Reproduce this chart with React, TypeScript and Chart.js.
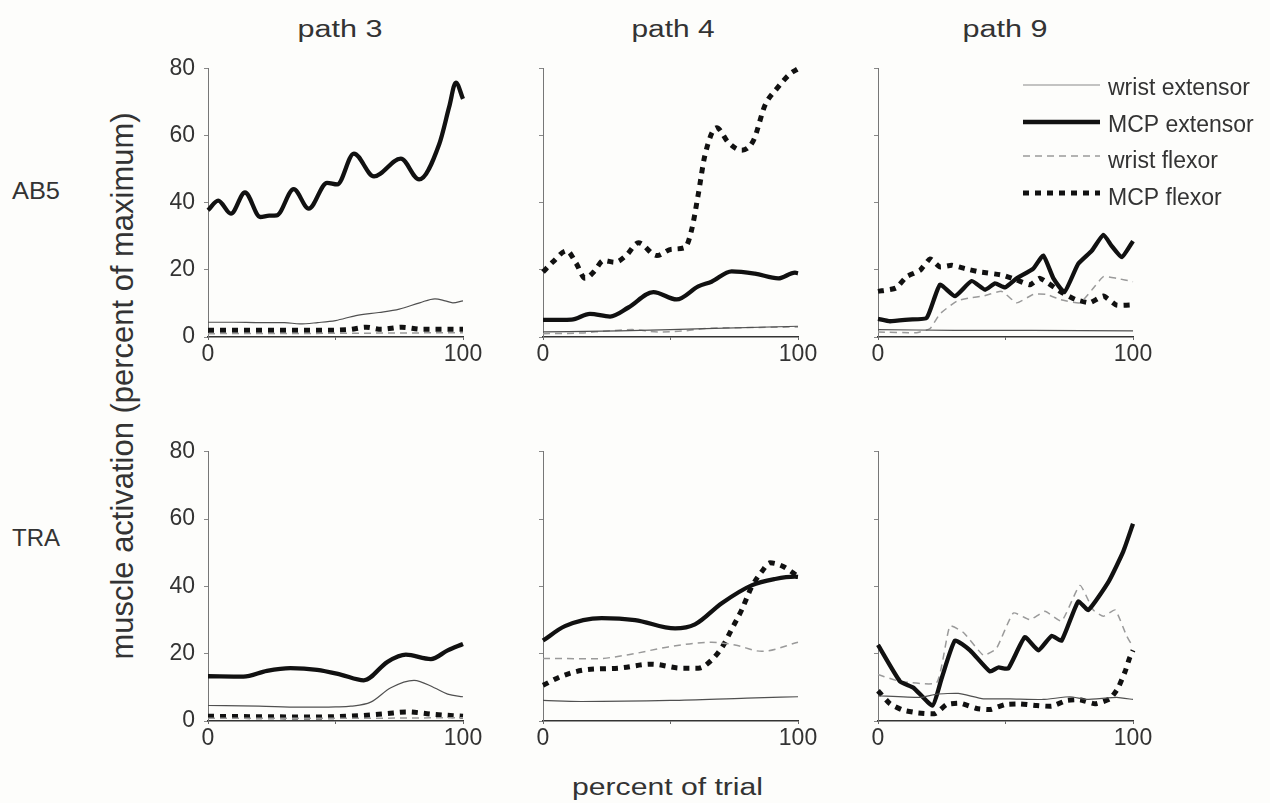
import React, { useEffect, useRef } from 'react';
import { Chart, registerables } from 'chart.js';

Chart.register(...registerables);

type Pt = [number, number];

// ---------- labels ----------
const SERIES_NAMES = ['wrist extensor', 'MCP extensor', 'wrist flexor', 'MCP flexor'];
const PATH_TITLES = ['path 3', 'path 4', 'path 9'];
const SUBJECTS = ['AB5', 'TRA'];
const X_TICKS = [0, 50, 100];
const X_TICK_LABELS = ['0', '', '100'];
const Y_TICKS = [0, 20, 40, 60, 80];
const Y_TITLE = 'muscle activation (percent of maximum)';
const X_TITLE = 'percent of trial';

// ---------- data: AB5 ----------
const AB5_P3_WRIST_EXT: Pt[] = [[0, 4.4], [10, 4.4], [20, 4.3], [30, 4.3], [36, 3.9], [43, 4.3], [50, 4.9], [58, 6.4], [67, 7.3], [75, 8.3], [83, 10.2], [89, 11.4], [93, 10.8], [96, 10.2], [100, 10.8]];
const AB5_P3_MCP_EXT: Pt[] = [[0, 37.8], [4, 40.7], [9, 36.8], [14.5, 43.1], [20.5, 35.8], [24, 36.2], [27, 36.3], [33.6, 44.1], [39.5, 38.3], [46.7, 46], [50.7, 45.5], [57.2, 54.7], [65.1, 47.9], [75.6, 53.2], [82.8, 47], [90.7, 57.6], [94.6, 68.7], [97.2, 75.9], [100, 71]];
const AB5_P3_WRIST_FLEX: Pt[] = [[0, 1], [50, 1.1], [100, 1.3]];
const AB5_P3_MCP_FLEX: Pt[] = [[0, 2], [40, 2], [55, 2.2], [62, 2.9], [68, 2.3], [76, 2.9], [84, 2.3], [100, 2.3]];

const AB5_P4_WRIST_EXT: Pt[] = [[0, 1.5], [30, 1.8], [60, 2.4], [100, 3.2]];
const AB5_P4_MCP_EXT: Pt[] = [[0, 5.1], [11.2, 5.2], [18.4, 6.9], [26.3, 6.1], [33.5, 8.8], [43.3, 13.4], [52.4, 11.2], [60.9, 15.1], [66.1, 16.5], [74, 19.6], [83.1, 18.9], [92.3, 17.5], [98.8, 19.2], [100, 19]];
const AB5_P4_WRIST_FLEX: Pt[] = [[0, 1], [15, 1.2], [25, 1.8], [35, 2.2], [45, 1.5], [55, 1.8], [65, 2.6], [80, 2.8], [100, 3]];
const AB5_P4_MCP_FLEX: Pt[] = [[0, 19.4], [4, 22.5], [9.3, 25.7], [13, 22], [16.5, 17.5], [20, 19.5], [23.7, 22.8], [28.2, 22.3], [32.6, 24.3], [37.4, 28.1], [44.6, 24.3], [50.5, 26.2], [55.7, 26.7], [58.3, 32], [60.9, 42.6], [63.5, 54.2], [68.1, 62.4], [72.7, 58], [77.9, 55.7], [82.5, 58.6], [87.1, 69.2], [91.6, 74], [96.9, 78.5], [100, 80]];

const AB5_P9_WRIST_EXT: Pt[] = [[0, 2.2], [30, 2], [60, 2], [100, 1.8]];
const AB5_P9_MCP_EXT: Pt[] = [[0, 5.4], [4.7, 4.7], [12, 5.2], [19.1, 5.7], [24.3, 15.6], [30.2, 12.2], [36.7, 16.7], [42, 14.1], [45.9, 16], [49.8, 14.8], [54.4, 17.5], [60.9, 20.4], [64.8, 24.3], [68.8, 17.5], [73.1, 13.4], [78.5, 21.8], [83.8, 25.7], [88.4, 30.5], [91.6, 27.2], [95.6, 23.8], [100, 28.6]];
const AB5_P9_WRIST_FLEX: Pt[] = [[0, 1.5], [15, 1.3], [20.4, 2.5], [24.3, 6.9], [30.9, 10.7], [36, 11.7], [41.3, 12.2], [48.5, 13.6], [54.4, 10.2], [60.9, 12.7], [66.1, 12.7], [71.4, 11.2], [79.2, 10.2], [84.5, 14.6], [88.4, 18], [93.6, 17.5], [100, 16.5]];
const AB5_P9_MCP_FLEX: Pt[] = [[0, 13.6], [7, 14.6], [11.2, 18], [16.5, 19.9], [20.4, 23.3], [24.3, 20.9], [28.9, 21.4], [34.1, 20.4], [40, 19.4], [48.5, 18.5], [54.4, 17], [59.6, 15.6], [63.5, 17.5], [71.4, 13.6], [77.3, 11.2], [83.1, 10.2], [88.4, 12.2], [93.6, 9.5], [100, 9.6]];

// ---------- data: TRA ----------
const TRA_P3_WRIST_EXT: Pt[] = [[0, 4.6], [20, 4.4], [36, 4.1], [50, 4.2], [56, 4.4], [63.8, 5.6], [71.7, 9.9], [80.8, 12.1], [88.7, 9.9], [94, 8], [100, 7.2]];
const TRA_P3_MCP_EXT: Pt[] = [[0, 13.3], [13.9, 13.2], [23.1, 14.9], [32.3, 15.7], [42.8, 15.2], [52, 13.8], [61.1, 12.1], [70.4, 17.6], [77.6, 19.7], [87.4, 18.4], [94, 21], [100, 22.9]];
const TRA_P3_WRIST_FLEX: Pt[] = [[0, 0.8], [50, 0.8], [100, 1]];
const TRA_P3_MCP_FLEX: Pt[] = [[0, 1.4], [40, 1.2], [60, 1.6], [70, 2.2], [78, 2.7], [88, 2], [100, 1.4]];

const TRA_P4_WRIST_EXT: Pt[] = [[0, 6.1], [15, 5.8], [50, 6.1], [80, 6.8], [100, 7.2]];
const TRA_P4_MCP_EXT: Pt[] = [[0, 23.9], [8.6, 28.2], [23, 30.6], [36.1, 30], [51.8, 27.5], [59.6, 28.7], [70.1, 35], [81.8, 40.3], [91, 42.2], [98.8, 42.9], [100, 42.8]];
const TRA_P4_WRIST_FLEX: Pt[] = [[0, 18.6], [20.4, 18.5], [33.5, 19.7], [49.1, 22], [66.1, 23.4], [75.3, 22.6], [85.8, 20.7], [100, 23.4]];
const TRA_P4_MCP_FLEX: Pt[] = [[0, 10.6], [7.3, 13.3], [16.5, 15.2], [29.5, 15.7], [42.6, 16.9], [54.4, 15.7], [60.9, 15.7], [66.1, 18.1], [70.7, 22.5], [74, 27.3], [77.9, 33], [81.8, 39.8], [86, 44.6], [89, 47], [94, 46], [100, 43]];

const TRA_P9_WRIST_EXT: Pt[] = [[0, 7.5], [16.5, 7], [23, 8], [31.5, 8.2], [41.3, 6.6], [51.8, 6.6], [64.8, 6.4], [75.3, 7.2], [81.8, 6.4], [93.6, 7], [100, 6.4]];
const TRA_P9_MCP_EXT: Pt[] = [[0, 22.6], [8.6, 11.8], [13.9, 9.9], [21.4, 4.6], [25, 12.8], [30.2, 23.9], [36.1, 21], [43.9, 14.7], [47.2, 15.9], [51.1, 15.6], [57.6, 24.9], [62.9, 21], [68.1, 25.3], [72, 23.9], [78.5, 35.5], [82.5, 33], [90.5, 41.5], [96.2, 50.4], [100, 58.6]];
const TRA_P9_WRIST_FLEX: Pt[] = [[0, 13.8], [8.6, 11.8], [23, 11.4], [28.2, 28.2], [33.5, 26.3], [41.3, 19.6], [46.4, 21.5], [53.1, 32.1], [59.6, 30.1], [65.5, 32.6], [72, 29.7], [79.2, 40.3], [84.4, 33], [88.4, 31.1], [93, 33], [97.5, 25.3], [100, 22]];
const TRA_P9_MCP_FLEX: Pt[] = [[0, 9], [4.7, 5.1], [9.9, 3.2], [15.8, 2.4], [22.4, 2.2], [26.9, 4.9], [32.2, 5.3], [38.7, 3.7], [43.9, 3.4], [49.8, 4.9], [55.7, 5.1], [62.2, 4.6], [68.1, 4.4], [74, 6.1], [79.2, 6.3], [85.1, 5.1], [91, 6.6], [94.2, 9.9], [96.9, 14.7], [98.6, 18.6], [100, 21]];

const PANELS: Pt[][][][] = [
  [
    [AB5_P3_WRIST_EXT, AB5_P3_MCP_EXT, AB5_P3_WRIST_FLEX, AB5_P3_MCP_FLEX],
    [AB5_P4_WRIST_EXT, AB5_P4_MCP_EXT, AB5_P4_WRIST_FLEX, AB5_P4_MCP_FLEX],
    [AB5_P9_WRIST_EXT, AB5_P9_MCP_EXT, AB5_P9_WRIST_FLEX, AB5_P9_MCP_FLEX],
  ],
  [
    [TRA_P3_WRIST_EXT, TRA_P3_MCP_EXT, TRA_P3_WRIST_FLEX, TRA_P3_MCP_FLEX],
    [TRA_P4_WRIST_EXT, TRA_P4_MCP_EXT, TRA_P4_WRIST_FLEX, TRA_P4_MCP_FLEX],
    [TRA_P9_WRIST_EXT, TRA_P9_MCP_EXT, TRA_P9_WRIST_FLEX, TRA_P9_MCP_FLEX],
  ],
];

// ---------- styles / layout ----------
const FONT = "'Liberation Sans', Arial, Helvetica, sans-serif";
const TEXT = '#333333';
const BG = '#fdfdfb';
const STYLES = [
  { color: '#505050', width: 1.2, dash: [] as number[] },
  { color: '#111111', width: 4.3, dash: [] as number[] },
  { color: '#9a9a9a', width: 1.5, dash: [7, 5] },
  { color: '#111111', width: 5, dash: [6, 6] },
];
const COL_LEFT = [208, 543, 878];
const ROW_TOP = [61, 444];
const ROW_H = [276, 277];
const PLOT_W = 255;
const AXIS_W = 70;
const PAD_TOP = 15;
const AXIS_H = 45;
const LEGEND_LINE_Y = [85, 122, 156, 193];
const LEGEND_TEXT_Y = [95, 132, 168, 205];
const LEGEND_X0 = 1023;
const LEGEND_X1 = 1100;
const LEGEND_TX = 1108;

type PanelProps = { row: number; col: number };

function Panel({ row, col }: PanelProps) {
  const ref = useRef<HTMLCanvasElement | null>(null);
  const withLegend = row === 0 && col === 2;
  const left = COL_LEFT[col] - AXIS_W;
  const top = ROW_TOP[row] - PAD_TOP;
  const padRight = withLegend ? 1270 - left - AXIS_W - PLOT_W : 35;
  const width = AXIS_W + PLOT_W + padRight;
  const height = PAD_TOP + ROW_H[row] + AXIS_H;

  useEffect(() => {
    if (!ref.current) return;
    const series = PANELS[row][col];
    const smooth = col !== 2;
    const datasets = series.map((pts, i) => ({
      label: SERIES_NAMES[i],
      data: pts.map(([x, y]) => ({ x, y })),
      borderColor: STYLES[i].color,
      borderWidth: STYLES[i].width,
      borderDash: STYLES[i].dash,
      borderCapStyle: 'butt' as const,
      pointRadius: 0,
      fill: false,
      clip: false as const,
      tension: smooth ? 0.4 : 0.15,
      cubicInterpolationMode: smooth ? ('monotone' as const) : ('default' as const),
    }));

    const legendPlugin = {
      id: 'muscleLegend',
      afterDraw(chart: any) {
        const ctx = chart.ctx as CanvasRenderingContext2D;
        ctx.save();
        SERIES_NAMES.forEach((name, i) => {
          const y = LEGEND_LINE_Y[i] - top;
          ctx.beginPath();
          ctx.setLineDash(STYLES[i].dash);
          ctx.strokeStyle = i === 0 ? '#8a8a8a' : STYLES[i].color;
          ctx.lineWidth = STYLES[i].width;
          ctx.lineCap = 'butt';
          ctx.moveTo(LEGEND_X0 - left, y);
          ctx.lineTo(LEGEND_X1 - left, y);
          ctx.stroke();
          ctx.setLineDash([]);
          ctx.fillStyle = TEXT;
          ctx.font = `23px ${FONT}`;
          ctx.textBaseline = 'alphabetic';
          ctx.textAlign = 'left';
          ctx.fillText(name, LEGEND_TX - left, LEGEND_TEXT_Y[i] - top);
        });
        ctx.restore();
      },
    };

    const chart = new Chart(ref.current, {
      type: 'line',
      data: { datasets },
      plugins: withLegend ? [legendPlugin] : [],
      options: {
        animation: false,
        responsive: false,
        maintainAspectRatio: false,
        layout: { padding: { top: PAD_TOP, right: padRight, left: 0, bottom: 0 } },
        plugins: { legend: { display: false }, tooltip: { enabled: false }, title: { display: false } },
        scales: {
          x: {
            type: 'linear',
            min: 0,
            max: 100,
            afterFit: (s: any) => { s.height = AXIS_H; },
            afterBuildTicks: (s: any) => { s.ticks = X_TICKS.map((v) => ({ value: v })); },
            ticks: {
              autoSkip: false,
              maxRotation: 0,
              padding: 1,
              color: TEXT,
              font: { family: FONT, size: 23 },
              callback: (v: any) => X_TICK_LABELS[X_TICKS.indexOf(Number(v))] ?? '',
            },
            grid: { drawOnChartArea: false, drawTicks: true, tickLength: 3, color: '#666', lineWidth: 1 },
            border: { display: true, color: '#333', width: 1.5 },
          },
          y: {
            type: 'linear',
            min: 0,
            max: 80,
            afterFit: (s: any) => { s.width = AXIS_W; },
            afterBuildTicks: (s: any) => { s.ticks = Y_TICKS.map((v) => ({ value: v })); },
            ticks: {
              padding: 9,
              color: TEXT,
              font: { family: FONT, size: 23 },
              callback: (v: any) => (col === 0 ? String(v) : ''),
            },
            grid: { drawOnChartArea: false, drawTicks: true, tickLength: 4, color: '#888', lineWidth: 1 },
            border: { display: true, color: '#777', width: 1 },
          },
        },
      },
    } as any);
    return () => chart.destroy();
  }, [row, col]);

  return (
    <canvas
      ref={ref}
      width={width}
      height={height}
      style={{ position: 'absolute', left, top, width, height }}
    />
  );
}

export default function App() {
  const cells: React.ReactNode[] = [];
  for (let r = 0; r < 2; r++) for (let c = 0; c < 3; c++) cells.push(<Panel key={`${r}-${c}`} row={r} col={c} />);
  const titleX = [340, 673, 1005];
  const titleW = [85, 83, 85];
  return (
    <div style={{ position: 'absolute', left: 0, top: 0, width: 1270, height: 803, background: BG, overflow: 'hidden' }}>
      <svg width={1270} height={803} style={{ position: 'absolute', left: 0, top: 0 }} fontFamily={FONT} fill={TEXT}>
        {PATH_TITLES.map((t, i) => (
          <text key={t} x={titleX[i]} y={37} fontSize={23} textAnchor="middle" textLength={titleW[i]} lengthAdjust="spacingAndGlyphs">{t}</text>
        ))}
        <text x={12} y={199} fontSize={24} textLength={48} lengthAdjust="spacingAndGlyphs">{SUBJECTS[0]}</text>
        <text x={12} y={546} fontSize={24} textLength={48} lengthAdjust="spacingAndGlyphs">{SUBJECTS[1]}</text>
        <text transform="translate(133,386) rotate(-90)" fontSize={31} textAnchor="middle" textLength={547} lengthAdjust="spacingAndGlyphs">{Y_TITLE}</text>
        <text x={667.5} y={795} fontSize={23.5} textAnchor="middle" textLength={191} lengthAdjust="spacingAndGlyphs">{X_TITLE}</text>
      </svg>
      {cells}
    </div>
  );
}
